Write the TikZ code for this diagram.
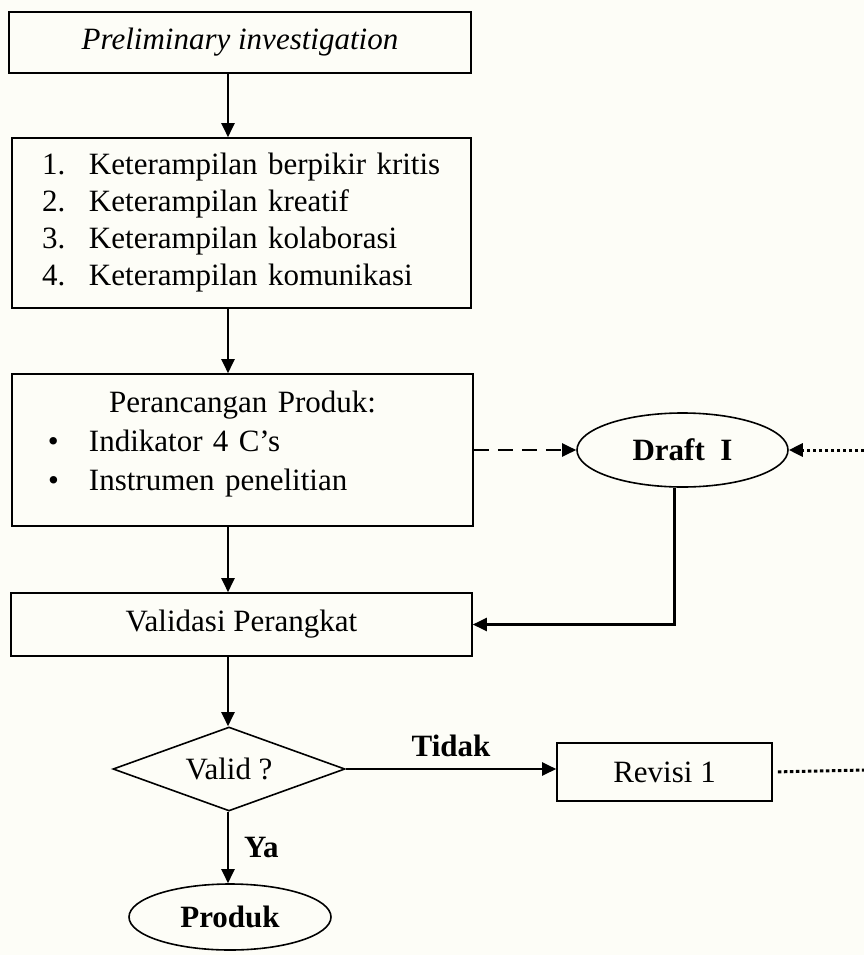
\documentclass[tikz,border=0pt]{standalone}
\usepackage{fontspec}
\setmainfont{Liberation Serif}
\usetikzlibrary{shapes.geometric,arrows.meta}
\definecolor{paper}{RGB}{253,253,247}
\begin{document}
\begin{tikzpicture}[x=1pt, y=-1pt, font=\fontsize{31}{37}\selectfont,
	box/.style={draw, line width=1.6pt, inner sep=0pt},
	oval/.style={draw, ellipse, line width=1.6pt, inner sep=0pt, font=\fontsize{31}{37}\selectfont\bfseries},
	lbl/.style={font=\fontsize{31}{37}\selectfont\bfseries, inner sep=2pt},
	arr/.style={line width=2.2pt, -{Triangle[length=14pt, width=13pt]}},
	dots/.style={line width=3pt, dash pattern=on 3.5pt off 2.5pt}]
	%background
	\fill[paper] (0,0) rectangle (864,955);
	\useasboundingbox (0,0) rectangle (864,955);
	\coordinate (spine) at (228,0);
	\coordinate (backin) at (864,450);
	\coordinate (backout) at (864,770);
	%boxes
	\node[box, minimum width=462pt, minimum height=61pt] (prelim) at (240,42.5) {\itshape Preliminary investigation};
	\node[box, minimum height=170pt, text width=459pt, align=center] (skills) at (241.5,223) {%
		\makebox[\linewidth][l]{\hspace*{30pt}\makebox[47pt][l]{1.}Keterampilan berpikir kritis}\\
		\makebox[\linewidth][l]{\hspace*{30pt}\makebox[47pt][l]{2.}Keterampilan kreatif}\\
		\makebox[\linewidth][l]{\hspace*{30pt}\makebox[47pt][l]{3.}Keterampilan kolaborasi}\\
		\makebox[\linewidth][l]{\hspace*{30pt}\makebox[47pt][l]{4.}Keterampilan komunikasi}};
	\node[box, minimum height=152pt, text width=461pt, align=center, font=\fontsize{31}{39}\selectfont] (design) at (242.5,450) {%
		Perancangan Produk:\\
		\makebox[\linewidth][l]{\hspace*{36pt}\makebox[41pt][l]{\textbullet}Indikator 4 C’s}\\
		\makebox[\linewidth][l]{\hspace*{36pt}\makebox[41pt][l]{\textbullet}Instrumen penelitian}\rule[-19pt]{0pt}{0pt}};
	\node[box, minimum width=461pt, minimum height=63pt] (validasi) at (241.5,624.5) {Validasi Perangkat};
	\node[draw, diamond, aspect=2.76, line width=1.6pt, inner sep=0pt, minimum width=232pt, minimum height=84pt] (valid) at (229,769) {Valid ?};
	\node[box, minimum width=215pt, minimum height=58pt] (revisi) at (664.5,772) {Revisi 1};
	\node[oval, minimum width=211pt, minimum height=74pt] (draft) at (682.5,450) {Draft~~I};
	\node[oval, minimum width=202pt, minimum height=66pt] (produk) at (230,917) {Produk};
	%arrows
	\draw[arr] (prelim.south -| spine) -- (skills.north -| spine);
	\draw[arr] (skills.south -| spine) -- (design.north -| spine);
	\draw[arr] (design.south -| spine) -- (validasi.north -| spine);
	\draw[arr] (validasi.south -| spine) -- (valid.north -| spine);
	\draw[arr] (valid.south -| spine) -- node[lbl, right=13pt] {Ya} (produk.north -| spine);
	\draw[arr] (valid.east) -- node[lbl, above=9pt] {Tidak} (revisi.west |- valid.east);
	\draw[arr, dash pattern=on 15pt off 9pt] (design.east) -- (draft.west);
	\draw[arr] ([xshift=-8pt]draft.south) |- (validasi.east);
	%loop back
	\draw[arr, dots] (backin) -- (draft.east);
	\draw[dots, shorten <=5pt] (revisi.east) -- (backout);
\end{tikzpicture}
\end{document}
